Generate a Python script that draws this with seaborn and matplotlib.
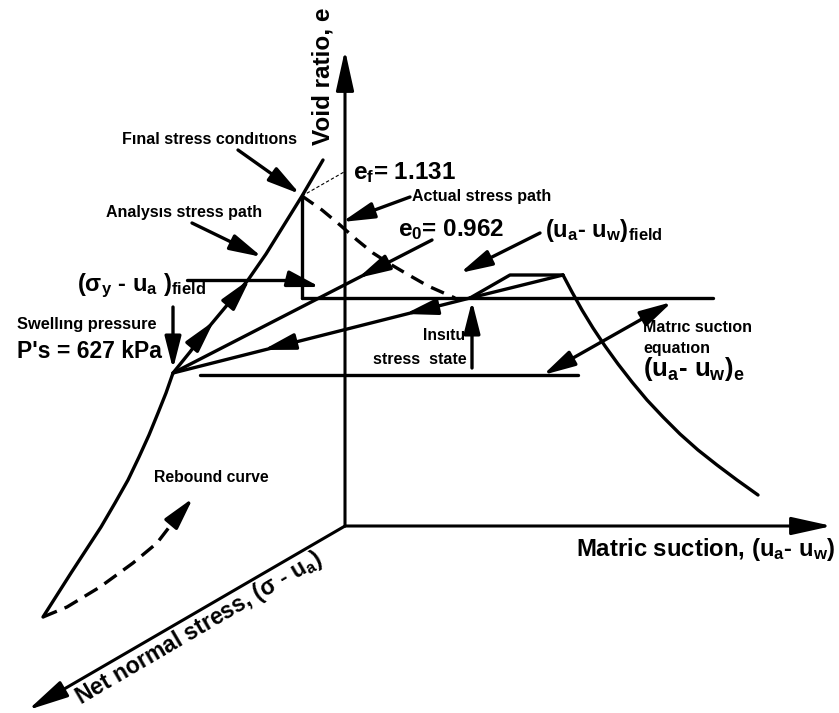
import matplotlib
matplotlib.use("Agg")
import matplotlib.pyplot as plt
import seaborn as sns

# ---------------- data (schematic coordinates, image pixels) -------------
origin = (345, 526)
void_axis_tip = (345, 50)
suction_axis_tip = (832, 526)
stress_axis_tip = (28, 710)

# main solid curve: rebound part + analysis stress path
main_curve_x = [43, 57, 71, 86, 101, 115, 128, 139, 149, 158, 166, 173,
                190, 208, 228, 248, 266, 284, 302, 323]
main_curve_y = [617, 595, 573, 550, 527, 503, 480, 457, 435, 413, 393, 373,
                352, 328, 304, 280, 254, 225, 196, 160]

# dashed rebound arrow
rebound_x = [43, 67, 100, 133, 157, 177]
rebound_y = [617, 607, 587, 563, 543, 517]
rebound_tip = (193, 498)

# actual stress path (dashed)
actual_x = [302, 322, 340, 357, 373, 390, 407, 428, 455]
actual_y = [196, 210, 225, 240, 253, 264, 274, 286, 298]

# thin dashed leader to e_f
ef_leader_x = [302, 344]
ef_leader_y = [196, 172]

# final-state vertical + in-situ horizontal
vert_x = [302, 302]
vert_y = [196, 298]
insitu_h_x = [302, 713]
insitu_h_y = [298, 298]
lower_h_x = [200, 578]
lower_h_y = [375, 375]

# e0 line and in-situ -> P's line
e0_line_x = [173, 432]
e0_line_y = [373, 240]
insitu_line_x = [173, 470]
insitu_line_y = [373, 298]

# right side: plateau and suction curve
plateau_x = [470, 510, 563]
plateau_y = [298, 275, 275]
direct_x = [470, 563]
direct_y = [298, 275]
suction_curve_x = [563, 572, 582, 593, 605, 618, 632, 647, 663, 680, 698, 717, 737, 758]
suction_curve_y = [275, 292, 310, 328, 346, 364, 382, 400, 417, 434, 450, 465, 480, 495]

# arrows: (tail, tip)
arrows = {
    "final": ((238, 150), (300, 194)),
    "analysis": ((192, 223), (262, 257)),
    "actual": ((410, 197), (342, 222)),
    "field": ((540, 233), (460, 273)),
    "insitu": ((472, 368), (472, 301)),
    "pswell": ((173, 307), (173, 369)),
    "e0_head": ((385, 264), (358, 278)),
    "ins_head1": ((432, 308), (405, 314)),
    "ins_head2": ((290, 343), (263, 350)),
    "curve_head1": ((203, 334), (214, 321)),
    "curve_head2": ((239, 292), (250, 279)),
    "sig_head": ((292, 280), (320, 287)),
}
sig_line_x = [187, 296]
sig_line_y = [280, 280]
double_arrow = ((672, 302), (543, 375))

# ---------------- styling ----------------
sns.set_theme(style="white")
plt.rcParams["font.family"] = ["Liberation Sans", "DejaVu Sans"]
plt.rcParams["font.weight"] = "bold"
plt.rcParams["mathtext.fontset"] = "custom"
plt.rcParams["mathtext.rm"] = "Liberation Sans:bold"
plt.rcParams["mathtext.bf"] = "Liberation Sans:bold"
plt.rcParams["mathtext.it"] = "Liberation Sans:bold"
plt.rcParams["mathtext.sf"] = "Liberation Sans:bold"

fig = plt.figure(figsize=(8.39, 7.13), dpi=100)
ax = fig.add_axes([0, 0, 1, 1])
ax.set_xlim(0, 839)
ax.set_ylim(713, 0)
ax.axis("off")

LW = 2.4
K = "black"


def line(xs, ys, lw=LW, **kw):
    sns.lineplot(x=xs, y=ys, sort=False, estimator=None, color=K, lw=lw, ax=ax, **kw)


def arrow(tail, tip, lw=LW, hl=1.5, hw=0.38, ms=13):
    ax.annotate("", xy=tip, xytext=tail,
                arrowprops=dict(arrowstyle=f"-|>,head_length={hl},head_width={hw}",
                                lw=lw, color=K, shrinkA=0, shrinkB=0,
                                mutation_scale=ms))


# axes of the 3-D diagram
arrow(origin, void_axis_tip, lw=2.2, hl=1.9, hw=0.42)
arrow(origin, suction_axis_tip, lw=2.2, hl=1.9, hw=0.42)
arrow(origin, stress_axis_tip, lw=2.2, hl=1.9, hw=0.42)

# curves
line(main_curve_x, main_curve_y)
line(rebound_x, rebound_y, dashes=(4.5, 2.5))
arrow((rebound_x[-1], rebound_y[-1]), rebound_tip)
line(actual_x, actual_y, dashes=(4.2, 2.6))
line(ef_leader_x, ef_leader_y, lw=0.8, dashes=(3, 2))
line(vert_x, vert_y)
line(insitu_h_x, insitu_h_y)
line(lower_h_x, lower_h_y)
line(e0_line_x, e0_line_y)
line(insitu_line_x, insitu_line_y)
line(plateau_x, plateau_y)
line(direct_x, direct_y)
line(suction_curve_x, suction_curve_y)
line(sig_line_x, sig_line_y)

for tail, tip in arrows.values():
    arrow(tail, tip)

# double-headed arrow
ax.annotate("", xy=double_arrow[1], xytext=double_arrow[0],
            arrowprops=dict(arrowstyle="<|-|>,head_length=1.5,head_width=0.38",
                            lw=LW, color=K, shrinkA=0, shrinkB=0, mutation_scale=13))

# ---------------- texts ----------------
T = dict(color=K, fontweight="bold")
ax.text(323, 76, "Void ratio, e", rotation=90, fontsize=17.5, ha="center", va="center", **T)
ax.text(210, 140, "Fınal stress condıtıons", fontsize=11.5, ha="center", va="center", **T)
ax.text(184, 212, "Analysıs stress path", fontsize=11.5, ha="center", va="center", **T)
ax.text(77, 291, r"($\mathrm{\sigma_y}$ - u$_\mathrm{a}$ )$_\mathrm{field}$", fontsize=17,
        ha="left", va="baseline", **T)
ax.text(87, 325, "Swellıng pressure", fontsize=11.8, ha="center", va="center", **T)
ax.text(89, 352, "P's = 627 kPa", fontsize=16.5, ha="center", va="center", **T)
ax.text(353, 179, r"e$_\mathrm{f}$= 1.131", fontsize=17.5, ha="left", va="baseline", **T)
ax.text(412, 197, "Actual stress path", fontsize=11.5, ha="left", va="center", **T)
ax.text(398, 236, r"e$_\mathrm{0}$= 0.962", fontsize=17.5, ha="left", va="baseline", **T)
ax.text(545, 237, r"(u$_\mathrm{a}$- u$_\mathrm{w}$)$_\mathrm{field}$", fontsize=17,
        ha="left", va="baseline", **T)
ax.text(444, 335, "Insıtu", fontsize=11.3, ha="center", va="center", **T)
ax.text(420, 359, "stress  state", fontsize=11.5, ha="center", va="center", **T)
ax.text(643, 328, "Matrıc suctıon", fontsize=11.5, ha="left", va="center", **T)
ax.text(643, 348, "equatıon", fontsize=11.5, ha="left", va="center", **T)
ax.text(643, 376, r"(u$_\mathrm{a}$- u$_\mathrm{w}$)$_\mathrm{e}$", fontsize=18.5,
        ha="left", va="baseline", **T)
ax.text(211, 477, "Rebound curve", fontsize=11.3, ha="center", va="center", **T)
ax.text(576, 556, r"Matric suction, (u$_\mathrm{a}$- u$_\mathrm{w}$)", fontsize=17.2,
        ha="left", va="baseline", **T)
ax.text(80, 705, r"Net normal stress, (σ - u$_\mathrm{a}$)", fontsize=16.5, ha="left",
        va="baseline", rotation=30.3, rotation_mode="anchor", **T)

fig.savefig("out.png", dpi=100)
